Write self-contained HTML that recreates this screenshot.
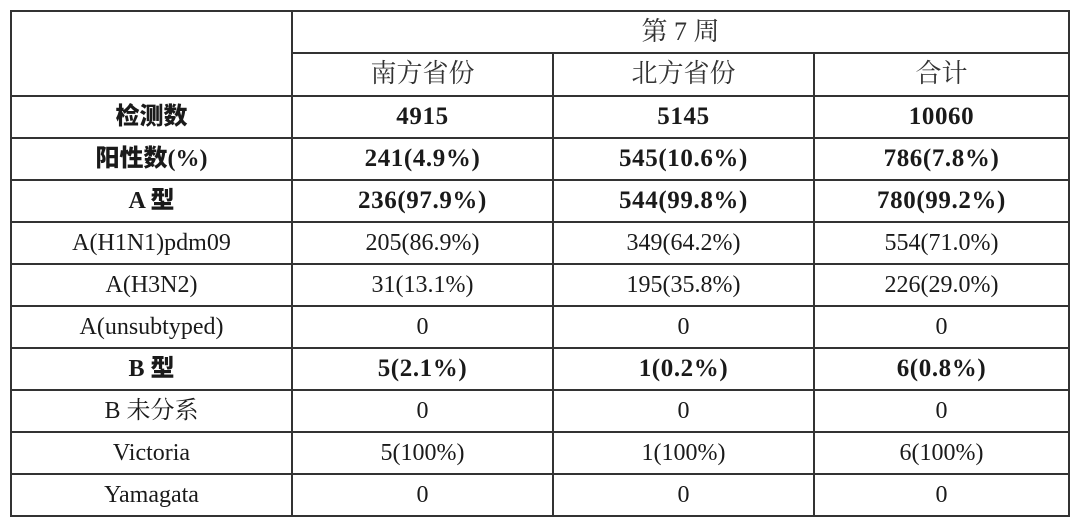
<!DOCTYPE html>
<html><head><meta charset="utf-8"><style>
body{margin:0;width:1080px;height:530px;background:#fff;position:relative;overflow:hidden;font-family:"Liberation Serif","Noto Serif CJK SC",serif;color:#1a1a1a}
.h{position:absolute;height:2px;background:#333}
.v{position:absolute;width:2px;background:#333}
.t{position:absolute;text-align:center;font-size:24px;line-height:42px;height:42px;white-space:nowrap}
.b{font-weight:bold;font-size:25px;letter-spacing:0.6px}
.k{font-family:"Liberation Serif","Noto Sans CJK SC",sans-serif;font-weight:900;font-size:24px}
.z{font-family:"Liberation Serif","Noto Serif CJK SC",serif;font-size:26px;color:#333}
</style></head><body>
<div class="h" style="left:11px;width:1059px;top:10px"></div>
<div class="h" style="left:292px;width:778px;top:52px"></div>
<div class="h" style="left:11px;width:1059px;top:95px"></div>
<div class="h" style="left:11px;width:1059px;top:137px"></div>
<div class="h" style="left:11px;width:1059px;top:179px"></div>
<div class="h" style="left:11px;width:1059px;top:221px"></div>
<div class="h" style="left:11px;width:1059px;top:263px"></div>
<div class="h" style="left:11px;width:1059px;top:305px"></div>
<div class="h" style="left:11px;width:1059px;top:347px"></div>
<div class="h" style="left:11px;width:1059px;top:389px"></div>
<div class="h" style="left:11px;width:1059px;top:431px"></div>
<div class="h" style="left:11px;width:1059px;top:473px"></div>
<div class="h" style="left:11px;width:1059px;top:515px"></div>
<div class="v" style="left:10px;top:10px;height:507px"></div>
<div class="v" style="left:291px;top:10px;height:507px"></div>
<div class="v" style="left:552px;top:52px;height:465px"></div>
<div class="v" style="left:813px;top:52px;height:465px"></div>
<div class="v" style="left:1068px;top:10px;height:507px"></div>

<div class="t z" style="left:292px;width:777px;top:11px">第 7 周</div>
<div class="t z" style="left:292px;width:261px;top:53px">南方省份</div>
<div class="t z" style="left:553px;width:261px;top:53px">北方省份</div>
<div class="t z" style="left:814px;width:255px;top:53px">合计</div>

<div id="rows"></div>
<script>
var d=[["检测数","4915","5145","10060",1],["阳性数<b>(%)</b>","241(4.9%)","545(10.6%)","786(7.8%)",1],["A 型","236(97.9%)","544(99.8%)","780(99.2%)",1],["A(H1N1)pdm09","205(86.9%)","349(64.2%)","554(71.0%)",0],["A(H3N2)","31(13.1%)","195(35.8%)","226(29.0%)",0],["A(unsubtyped)","0","0","0",0],["B 型","5(2.1%)","1(0.2%)","6(0.8%)",1],["B 未分系","0","0","0",0],["Victoria","5(100%)","1(100%)","6(100%)",0],["Yamagata","0","0","0",0]];
var xs=[[11,281],[292,261],[553,261],[814,255]],h="";
d.forEach(function(r,i){var y=96+i*42;for(var j=0;j<4;j++){var c="t"+(r[4]?(j==0?" k":" b"):"");h+='<div class="'+c+'" style="left:'+xs[j][0]+'px;width:'+xs[j][1]+'px;top:'+y+'px">'+r[j]+'</div>';}});
document.getElementById("rows").innerHTML=h;
</script>
</body></html>
